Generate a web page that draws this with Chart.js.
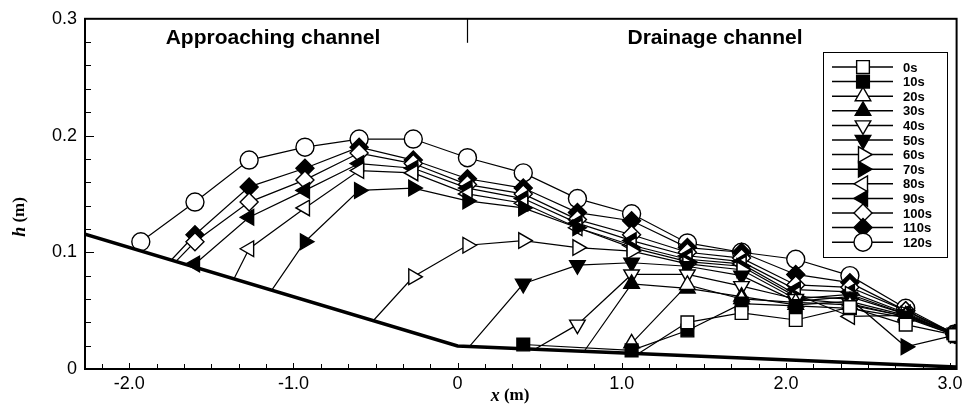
<!DOCTYPE html>
<html><head><meta charset="utf-8">
<script src="https://cdn.jsdelivr.net/npm/chart.js@4.4.1/dist/chart.umd.min.js"></script>
<style>html,body{margin:0;padding:0;background:#fff;}</style>
</head><body>
<canvas id="c" width="967" height="407"></canvas>
<script>
// ---------------- DATA ----------------
const seriesNames = ['0s','10s','20s','30s','40s','50s','60s','70s','80s','90s','100s','110s','120s'];
// measuring stations along x (m)
const stations = [-1.93, -1.60, -1.27, -0.93, -0.60, -0.27, 0.06, 0.40, 0.73, 1.06, 1.40, 1.73, 2.06, 2.39, 2.73, 3.03];
// water depth h (m) at each station, null = dry
const h0s   = [null,null,null,null,null,null,null,null,null,null,0.040,0.048,0.042,0.053,0.038,0.029];
const h10s  = [null,null,null,null,null,null,null,0.021,null,0.016,0.033,0.056,0.054,0.052,0.044,0.029];
const h20s  = [null,null,null,null,null,null,null,null,null,0.022,0.072,0.060,0.057,0.055,0.045,0.029];
const h30s  = [null,null,null,null,null,null,null,null,null,0.073,0.069,0.062,0.055,0.058,0.046,0.030];
const h40s  = [null,null,null,null,null,null,null,null,0.038,0.081,0.081,0.071,0.060,0.056,0.045,0.031];
const h50s  = [null,null,null,null,null,null,null,0.073,0.089,0.091,0.088,0.080,0.058,0.062,0.047,0.030];
const h60s  = [null,null,null,null,null,0.079,0.106,0.110,0.104,0.101,0.090,0.085,0.060,0.064,0.047,0.030];
const h70s  = [null,null,null,0.109,0.153,0.155,0.144,0.138,0.121,0.104,0.092,0.088,0.062,0.060,0.019,0.029];
const h80s  = [null,null,0.103,0.138,0.170,0.168,0.150,0.142,0.121,0.106,0.094,0.090,0.064,0.045,0.046,0.030];
const h90s  = [null,0.090,0.130,0.153,0.176,0.172,0.155,0.146,0.125,0.110,0.097,0.092,0.068,0.066,0.048,0.031];
const h100s = [null,0.109,0.143,0.162,0.185,0.176,0.158,0.150,0.128,0.115,0.100,0.095,0.072,0.070,0.050,0.030];
const h110s = [null,0.115,0.156,0.172,0.190,0.179,0.163,0.155,0.134,0.127,0.104,0.100,0.081,0.074,0.050,0.030];
const h120s = [0.109,0.143,0.179,0.190,0.197,0.197,0.181,0.168,0.146,0.133,0.108,0.100,0.094,0.080,0.052,0.030];
// wet front on the bed (x, h), drawn without a marker
const fronts = [[1.10,0.013], null, null, [0.77,0.015], [0.47,0.017], [0.07,0.019], [-0.51,0.042],
                [-1.13,0.068], [-1.36,0.078], null, [-1.71,0.093], [-1.74,0.094], null];
// channel bed profile
const bedX = [-2.27, 0.0, 3.04];
const bedH = [0.1155, 0.0197, 0.0018];
// axes
const xMajorTicks = [-2, -1, 0, 1, 2, 3];
const yMajorTicks = [0, 0.1, 0.2, 0.3];
const regionLabels = ['Approaching channel', 'Drainage channel'];
const regionDividerX = 0.06;
const axisTitleX = ['x', ' (m)'];
const axisTitleY = ['h', ' (m)'];

// ---------------- STYLE ----------------
const allH = [h0s,h10s,h20s,h30s,h40s,h50s,h60s,h70s,h80s,h90s,h100s,h110s,h120s];
const markerDefs = [
  {s:'rect', r:0, f:false}, {s:'rect', r:0, f:true},
  {s:'triangle', r:0, f:false}, {s:'triangle', r:0, f:true},
  {s:'triangle', r:180, f:false}, {s:'triangle', r:180, f:true},
  {s:'triangle', r:90, f:false}, {s:'triangle', r:90, f:true},
  {s:'triangle', r:270, f:false}, {s:'triangle', r:270, f:true},
  {s:'rectRot', r:0, f:false}, {s:'rectRot', r:0, f:true},
  {s:'circle', r:0, f:false}
];
const MR = 9;

const datasets = [{
  label: 'bed',
  data: bedX.map((x,i)=>({x, y: bedH[i]})),
  showLine: true, borderColor: '#000', borderWidth: 3.5, pointRadius: 0, tension: 0
}];
allH.forEach((h, i) => {
  const pts = [];
  if (fronts[i]) pts.push({x: fronts[i][0], y: fronts[i][1], front: true});
  stations.forEach((x, j) => { if (h[j] !== null) pts.push({x, y: h[j]}); });
  const m = markerDefs[i];
  datasets.push({
    label: seriesNames[i],
    data: pts,
    showLine: true,
    tension: 0,
    borderColor: '#000',
    borderWidth: 1.2,
    pointStyle: m.s,
    rotation: m.r,
    pointRadius: c => (c.raw && c.raw.front) ? 0 : MR,
    pointBorderWidth: 1.4,
    pointBorderColor: '#000',
    pointBackgroundColor: m.f ? '#000' : '#fff'
  });
});

const xTickVals = [];
for (let k = -13; k <= 18; k++) xTickVals.push(k / 6);
const yTickVals = [];
for (let k = 0; k <= 15; k++) yTickVals.push(Math.round(k * 2) / 100);

const fmt = v => Math.abs(v) < 1e-9 ? '0' : v.toFixed(1);
const isMajor = (v, arr) => arr.some(a => Math.abs(a - v) < 1e-6);

const decor = {
  id: 'decor',
  afterDraw(chart) {
    const {ctx, chartArea: a, scales: {x, y}} = chart;
    ctx.save();
    ctx.strokeStyle = '#000';
    ctx.fillStyle = '#000';
    // inner ticks
    ctx.lineWidth = 1;
    ctx.beginPath();
    xTickVals.forEach(v => {
      const px = Math.round(x.getPixelForValue(v)) + 0.5;
      if (px < a.left + 2 || px > a.right - 2) return;
      ctx.moveTo(px, a.bottom); ctx.lineTo(px, a.bottom - (isMajor(v, xMajorTicks) ? 6 : 5));
    });
    yTickVals.forEach(v => {
      const py = Math.round(y.getPixelForValue(v)) + 0.5;
      if (py < a.top + 2 || py > a.bottom - 2) return;
      ctx.moveTo(a.left, py); ctx.lineTo(a.left + (isMajor(v, yMajorTicks) ? 9 : 6), py);
    });
    ctx.stroke();
    // frame
    ctx.lineWidth = 2;
    ctx.strokeRect(a.left, a.top, a.right - a.left, a.bottom - a.top);
    // divider and region labels
    const dx = Math.round(x.getPixelForValue(regionDividerX)) + 0.5;
    ctx.lineWidth = 1.2;
    ctx.beginPath(); ctx.moveTo(dx, a.top); ctx.lineTo(dx, a.top + 24); ctx.stroke();
    ctx.font = 'bold 21px "Liberation Sans", Arial, sans-serif';
    ctx.textAlign = 'center'; ctx.textBaseline = 'middle';
    ctx.fillText(regionLabels[0], 273, 38);
    ctx.fillText(regionLabels[1], 715, 38);
    // axis titles
    const drawTitle = (parts, cx, cy) => {
      const f1 = 'italic bold 18px "Liberation Serif", "Times New Roman", serif';
      const f2 = 'bold 17px "Liberation Serif", "Times New Roman", serif';
      ctx.font = f1; const w1 = ctx.measureText(parts[0]).width;
      ctx.font = f2; const w2 = ctx.measureText(parts[1]).width;
      const sx = cx - (w1 + w2) / 2;
      ctx.textAlign = 'left'; ctx.textBaseline = 'middle';
      ctx.font = f1; ctx.fillText(parts[0], sx, cy);
      ctx.font = f2; ctx.fillText(parts[1], sx + w1, cy);
    };
    drawTitle(axisTitleX, 510, 396);
    ctx.save();
    ctx.translate(20, 217); ctx.rotate(-Math.PI / 2);
    drawTitle(axisTitleY, 0, 0);
    ctx.restore();
    // legend
    const L = {x0: 823, y0: 52, x1: 947, y1: 257};
    ctx.fillStyle = '#fff';
    ctx.fillRect(L.x0, L.y0, L.x1 - L.x0, L.y1 - L.y0);
    ctx.lineWidth = 1;
    ctx.strokeStyle = '#000';
    ctx.strokeRect(L.x0 + 0.5, L.y0 + 0.5, L.x1 - L.x0, L.y1 - L.y0);
    seriesNames.forEach((name, i) => {
      const ry = 67 + i * 14.6;
      const m = markerDefs[i];
      ctx.strokeStyle = '#000';
      ctx.lineWidth = 1.5;
      ctx.beginPath(); ctx.moveTo(832, ry); ctx.lineTo(893, ry); ctx.stroke();
      ctx.fillStyle = m.f ? '#000' : '#fff';
      ctx.lineWidth = 1.4;
      Chart.helpers.drawPoint(ctx, {pointStyle: m.s, rotation: m.r, radius: MR, borderWidth: 1.4}, 863, ry);
      ctx.fillStyle = '#000';
      ctx.font = 'bold 13px "Liberation Sans", Arial, sans-serif';
      ctx.textAlign = 'left'; ctx.textBaseline = 'middle';
      ctx.fillText(name, 903, ry + 1);
    });
    ctx.restore();
  }
};

new Chart(document.getElementById('c'), {
  type: 'scatter',
  data: { datasets },
  options: {
    responsive: false,
    animation: false,
    events: [],
    layout: { padding: { top: 18, right: 9, left: 0, bottom: 0 } },
    plugins: { legend: { display: false }, tooltip: { enabled: false } },
    scales: {
      x: {
        type: 'linear', min: -2.27, max: 3.04,
        afterBuildTicks: s => { s.ticks = xTickVals.map(v => ({value: v})); },
        afterFit: s => { s.height = 38; },
        grid: { display: false, drawTicks: false },
        border: { display: false },
        ticks: {
          autoSkip: false, maxRotation: 0, padding: 4, color: '#000',
          font: { family: '"Liberation Sans", Arial, sans-serif', size: 18 },
          callback: v => isMajor(v, xMajorTicks) ? fmt(v) : ''
        }
      },
      y: {
        type: 'linear', min: 0, max: 0.3,
        afterBuildTicks: s => { s.ticks = yTickVals.map(v => ({value: v})); },
        afterFit: s => { s.width = 85; },
        grid: { display: false, drawTicks: false },
        border: { display: false },
        ticks: {
          autoSkip: false, padding: 8, color: '#000',
          font: { family: '"Liberation Sans", Arial, sans-serif', size: 18 },
          callback: v => isMajor(v, yMajorTicks) ? fmt(v) : ''
        }
      }
    }
  },
  plugins: [decor]
});
</script>
</body></html>
